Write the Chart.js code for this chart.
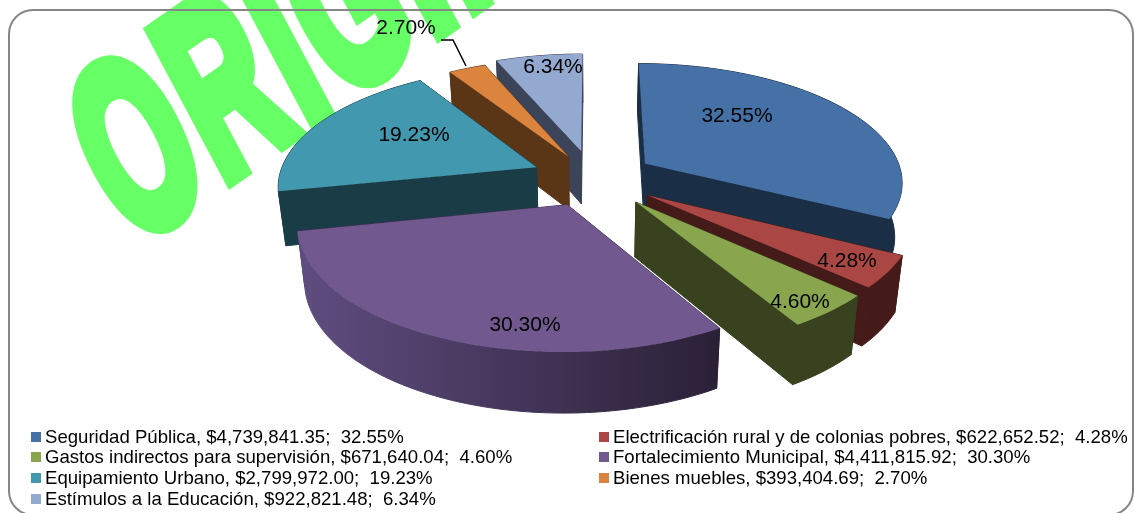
<!DOCTYPE html>
<html>
<head>
<meta charset="utf-8">
<title>Distribución</title>
<script src="https://cdn.jsdelivr.net/npm/chart.js@4"></script>
<style>
  html, body { margin: 0; padding: 0; background: #fff; }
  canvas { display: block; }
</style>
</head>
<body>
<canvas id="pieChart" width="1134" height="513"></canvas>
<script>
const categories = [
    'Seguridad Pública',
    'Electrificación rural y de colonias pobres',
    'Gastos indirectos para supervisión',
    'Fortalecimiento Municipal',
    'Equipamiento Urbano',
    'Bienes muebles',
    'Estímulos a la Educación'
];
const amounts = [4739841.35, 622652.52, 671640.04, 4411815.92, 2799972.00, 393404.69, 922821.48];
const shares = ['32.55', '4.28', '4.60', '30.30', '19.23', '2.70', '6.34'];

const topColors = ['#4571a7', '#aa4643', '#89a54e', '#71588f', '#4198af', '#db843d', '#93a9cf'];
const wallColors = ['#1a2e45', '#451b19', '#38421e', '#3d2f50', '#1a3c47', '#5a3617', '#3c4459'];
const explode = [62, 65, 66, 62, 62, 54, 62];

// back to front
const drawOrder = [6, 5, 4, 0, 1, 2, 3];
const labelSpots = [[737, 116], [847, 261], [800, 302], [525, 325], [414, 135], [406, 28], [553, 67]];

// projection of the tilted pie
const CX = 593, CY = 178, R = 258, K = 0.457, P = 0.00055, DEPTH = 54, LOW = 0.976;

function project(u, w, low) {
    const f = 1 / (1 - P * w);
    if (low) return { x: CX + u * f * LOW, y: CY + K * w * f * LOW + DEPTH * f };
    return { x: CX + u * f, y: CY + K * w * f };
}

function sliceOutline(arc) {
    const { startAngle, endAngle } = arc.getProps(['startAngle', 'endAngle'], true);
    const mid = (startAngle + endAngle) / 2;
    const e = arc.options.offset;
    const ou = Math.cos(mid) * e, ow = Math.sin(mid) * e;
    const pts = [[ou, ow]];
    const steps = Math.ceil((endAngle - startAngle) * 30);
    for (let i = 0; i <= steps; i++) {
        const a = startAngle + (endAngle - startAngle) * i / steps;
        pts.push([ou + R * Math.cos(a), ow + R * Math.sin(a)]);
    }
    return pts;
}

function fillPoly(ctx, points, color, seal) {
    ctx.beginPath();
    points.forEach((p, i) => i ? ctx.lineTo(p.x, p.y) : ctx.moveTo(p.x, p.y));
    ctx.closePath();
    ctx.fillStyle = color;
    ctx.fill();
    if (seal) {
        ctx.strokeStyle = color;
        ctx.lineWidth = 1;
        ctx.stroke();
    }
}

function drawWatermark(ctx) {
    ctx.save();
    const base = 35 * Math.PI / 180, stem = 28 * Math.PI / 180;
    ctx.transform(Math.cos(base) * 0.55, -Math.sin(base) * 0.55, Math.sin(stem), Math.cos(stem), 132, 247);
    ctx.font = 'bold 240px "Liberation Sans"';
    ctx.letterSpacing = '12px';
    ctx.fillStyle = '#66ff66';
    ctx.strokeStyle = '#66ff66';
    ctx.lineWidth = 18;
    ctx.lineJoin = 'miter';
    ctx.textBaseline = 'alphabetic';
    ctx.strokeText('ORIGINAL', 0, 0);
    ctx.fillText('ORIGINAL', 0, 0);
    ctx.restore();
}

function drawFrame(ctx) {
    ctx.beginPath();
    ctx.roundRect(9, 10, 1124, 505, 24);
    ctx.lineWidth = 2;
    ctx.strokeStyle = '#868686';
    ctx.stroke();
}

function drawLegend(ctx) {
    const rows = [437, 457, 478, 499];
    const cols = [31, 599];
    ctx.font = '18.6px "Liberation Sans"';
    ctx.textBaseline = 'middle';
    ctx.textAlign = 'left';
    categories.forEach((name, i) => {
        const x = cols[i % 2], y = rows[Math.floor(i / 2)];
        const money = amounts[i].toLocaleString('en-US', { minimumFractionDigits: 2, maximumFractionDigits: 2 });
        ctx.fillStyle = topColors[i];
        ctx.fillRect(x, y - 5, 10, 10);
        ctx.fillStyle = '#000';
        ctx.fillText(`${name}, $${money};  ${shares[i]}%`, x + 14, y + 1);
    });
}

function drawLabels(ctx) {
    ctx.font = '21px "Liberation Sans"';
    ctx.textAlign = 'center';
    ctx.textBaseline = 'middle';
    ctx.fillStyle = '#000';
    shares.forEach((s, i) => ctx.fillText(`${s}%`, labelSpots[i][0], labelSpots[i][1]));
    ctx.beginPath();
    ctx.moveTo(441, 40);
    ctx.lineTo(453, 40);
    ctx.lineTo(466, 66);
    ctx.strokeStyle = '#000';
    ctx.lineWidth = 1.5;
    ctx.stroke();
}

const tiltedPie = {
    id: 'tiltedPie',
    beforeDatasetsDraw(chart) {
        const ctx = chart.ctx;
        const arcs = chart.getDatasetMeta(0).data;
        ctx.save();
        drawWatermark(ctx);
        drawFrame(ctx);
        drawOrder.forEach(i => {
            const outline = sliceOutline(arcs[i]);
            const top = outline.map(p => project(p[0], p[1], false));
            const low = outline.map(p => project(p[0], p[1], true));
            const last = top.length - 1;
            // two cut walls, then the curved rim as one shape
            fillPoly(ctx, [top[0], top[1], low[1], low[0]], wallColors[i], true);
            fillPoly(ctx, [top[0], top[last], low[last], low[0]], wallColors[i], true);
            let rim = wallColors[i];
            if (i === 3) {
                rim = ctx.createLinearGradient(300, 0, 720, 0);
                rim.addColorStop(0, '#5f4d80');
                rim.addColorStop(1, '#2a2036');
            }
            fillPoly(ctx, top.slice(1).concat(low.slice(1).reverse()), rim, true);
            fillPoly(ctx, top, topColors[i], false);
        });
        drawLabels(ctx);
        drawLegend(ctx);
        ctx.restore();
        return false;
    }
};

new Chart(document.getElementById('pieChart'), {
    type: 'pie',
    data: {
        labels: categories,
        datasets: [{
            data: amounts,
            backgroundColor: topColors,
            offset: explode
        }]
    },
    options: {
        responsive: false,
        animation: false,
        plugins: {
            legend: { display: false },
            tooltip: { enabled: false }
        }
    },
    plugins: [tiltedPie]
});
</script>
</body>
</html>
